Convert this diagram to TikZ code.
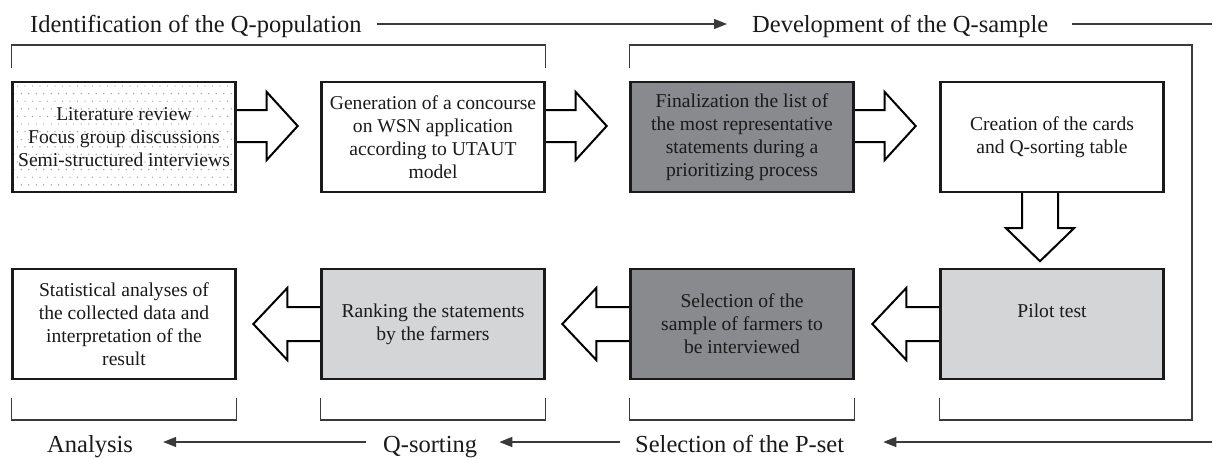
\documentclass[tikz,border=0pt]{standalone}
\usepackage{fontspec}
\setmainfont{Liberation Serif}
\usetikzlibrary{arrows.meta,calc,backgrounds}
\definecolor{darkfill}{HTML}{898A8E}
\definecolor{lightfill}{HTML}{D4D5D7}
\definecolor{ink}{HTML}{1A1A1A}
\definecolor{linegray}{HTML}{3A3A3A}
\definecolor{dotgray}{HTML}{9A9A9A}
\begin{document}
\begin{tikzpicture}[x=1pt,y=-1pt,
  qbox/.style={draw=ink, line width=2.4pt, minimum width=223pt, minimum height=110pt,
    inner sep=2pt, align=center, text=ink, font=\fontsize{19.6}{23}\selectfont},
  wbox/.style={qbox, fill=white},
  dbox/.style={qbox, fill=darkfill},
  lbox/.style={qbox, fill=lightfill},
  lab/.style={inner sep=0pt, anchor=base west, text=ink, font=\fontsize{24.5}{29}\selectfont},
  labarrow/.style={draw=linegray, line width=1.4pt, -{Triangle[length=13pt,width=10pt]}},
  labline/.style={draw=linegray, line width=1.4pt},
  bracket/.style={draw=linegray, line width=1.3pt},
  bigarrow/.style={draw=black, line width=2pt, fill=white, line join=miter},
]
\useasboundingbox (0,0) rectangle (1213,458);

% boxes
\node[qbox] (b1) at (124,137) {Literature review\\Focus group discussions\\Semi-structured interviews};
\node[wbox] (b2) at (433,137) {Generation of a concourse\\on WSN application\\according to UTAUT\\model};
\node[dbox] (b3) at (742,137) {Finalization the list of\\the most representative\\statements during a\\prioritizing process};
\node[wbox] (b4) at (1052,137) {Creation of the cards\\and Q-sorting table};
\node[wbox] (b5) at (124,324) {Statistical analyses of\\the collected data and\\interpretation of the\\result};
\node[lbox] (b6) at (433,324) {Ranking the statements\\by the farmers};
\node[dbox] (b7) at (742,324) {Selection of the\\sample of farmers to\\be interviewed};
\node[lbox] (b8) at (1052,324) {Pilot test\\\phantom{g}};

% labels
\node[lab] (t1) at (30,32) {Identification of the Q-population};
\node[lab] (t2) at (752,32) {Development of the Q-sample};
\node[lab] (t3) at (47,452) {Analysis};
\node[lab] (t4) at (383,452) {Q-sorting};
\node[lab] (t5) at (635,452) {Selection of the P-set};
\coordinate (tr) at (1212,24);
\coordinate (br) at (1212,442);

\begin{scope}[on background layer]
  \fill[white] (0,0) rectangle (1213,458);
  \begin{scope}
    \clip ($(b1.north west)+(1.2,1.2)$) rectangle ($(b1.south east)+(-1.2,-1.2)$);
    \foreach \j in {0,...,14} {
      \foreach \i in {0,...,30} {
        \fill[dotgray] ({10+7.5*\i+3.75*mod(\j,2)},{86+7.6*\j}) circle (0.7pt);
      }
    }
  \end{scope}
  % big arrows, upper row (pointing right)
  \foreach \b in {b1,b2,b3} {
    \draw[bigarrow] ([yshift=11pt]\b.east) ++(0,-16) -- ++(30,0) -- ++(0,-18) -- ++(31,34)
      -- ++(-31,34) -- ++(0,-18) -- ++(-30,0);
  }
  % down arrow
  \draw[bigarrow] ([xshift=-12pt]b4.south) ++(-18,0) -- ++(0,35) -- ++(-16,0) -- ++(34,33)
    -- ++(34,-33) -- ++(-16,0) -- ++(0,-35);
  % lower row (pointing left)
  \foreach \b in {b6,b7,b8} {
    \draw[bigarrow] (\b.west) ++(0,-17) -- ++(-33,0) -- ++(0,-19) -- ++(-34,36)
      -- ++(34,36) -- ++(0,-19) -- ++(33,0);
  }
\end{scope}

% brackets
\draw[bracket] (b1.north west |- 0,68) -- ++(0,-23) -| (b2.north east |- 0,68);
\draw[bracket] (b3.north west |- 0,68) -- ++(0,-23) -| (1192,420) -| (b8.south west |- 0,398);
\draw[bracket] (b5.south west |- 0,398) -- ++(0,22) -| (b5.south east |- 0,398);
\draw[bracket] (b6.south west |- 0,398) -- ++(0,22) -| (b6.south east |- 0,398);
\draw[bracket] (b7.south west |- 0,398) -- ++(0,22) -| (b7.south east |- 0,398);

% label arrows
\draw[labarrow] ([shift={(15,-8)}]t1.base east) -- ([shift={(-25,-8)}]t2.base west);
\draw[labline] ([shift={(24,-8)}]t2.base east) -- (tr);
\draw[labarrow] (br) -- ([shift={(39,-10)}]t5.base east);
\draw[labarrow] ([shift={(-15,-10)}]t5.base west) -- ([shift={(22,-10)}]t4.base east);
\draw[labarrow] ([shift={(-17,-10)}]t4.base west) -- ([shift={(30,-10)}]t3.base east);
\end{tikzpicture}
\end{document}
